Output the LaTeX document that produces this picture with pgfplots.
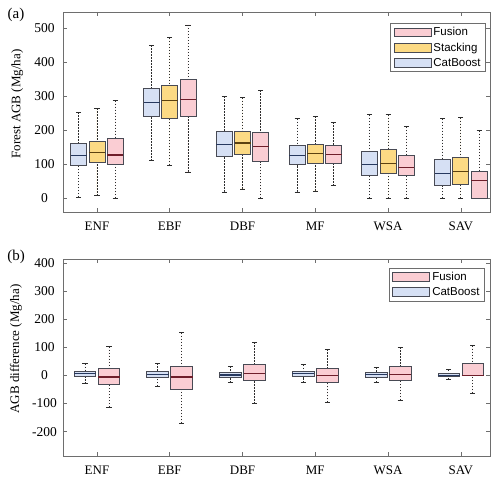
\documentclass[border=0pt]{standalone}
\usepackage{fontspec}
\setmainfont{Liberation Serif}
\newfontfamily\arialfont{Liberation Sans}
\usepackage{pgfplots}
\pgfplotsset{compat=1.18}
\usepgfplotslibrary{statistics}

\definecolor{framec}{RGB}{110,110,110}
\definecolor{edgec}{RGB}{72,74,84}
\definecolor{whiskc}{RGB}{45,45,45}
\definecolor{catfill}{RGB}{214,224,244}
\definecolor{stafill}{RGB}{252,218,132}
\definecolor{fusfill}{RGB}{250,205,211}
\definecolor{catmed}{RGB}{38,56,94}
\definecolor{stamed}{RGB}{92,66,16}
\definecolor{fusmed}{RGB}{110,30,42}

\pgfplotsset{
  panel/.style={
    scale only axis, width=427pt,
    xmin=0.533, xmax=6.4,
    xtick={1,2,3,4,5,6}, xticklabels={ENF,EBF,DBF,MF,WSA,SAV},
    axis line style={framec, line width=0.6pt},
    tick style={framec, line width=0.6pt},
    major tick length=4pt,
    xticklabel style={font=\fontsize{13}{14}\selectfont, text=black, anchor=center, yshift=-14pt},
    yticklabel style={font=\fontsize{13.5}{14}\selectfont, text=black, anchor=center, xshift=-18.5pt},
    label style={font=\fontsize{13}{14}\selectfont},
    /pgf/number format/assume math mode=true,
    legend image code/.code={\draw[##1] (0pt,-4.2pt) rectangle (37pt,4.2pt);},
    legend style={draw=framec, line width=0.6pt, fill=white,
      font=\arialfont\fontsize{11.5}{13}\selectfont,
      inner xsep=3pt, inner ysep=2pt, row sep=1.5pt,
      cells={anchor=west}},
    boxplot/draw direction=y,
    boxplot/whisker extend=0.07,
    boxplot/every box/.style={draw=edgec, line width=0.85pt},
    boxplot/every whisker/.style={draw=whiskc, line width=0.85pt, dash pattern=on 1.5pt off 1.5pt},
    boxplot/draw/lower whisker/.code={%
      \draw[/pgfplots/boxplot/every whisker/.try]
        (boxplot cs:\pgfplotsboxplotvalue{lower whisker}) --
        (boxplot cs:\pgfplotsboxplotvalue{lower quartile});
      \draw[draw=whiskc, line width=0.8pt, solid]
        (boxplot whisker cs:\pgfplotsboxplotvalue{lower whisker},0) --
        (boxplot whisker cs:\pgfplotsboxplotvalue{lower whisker},1);
    },
    boxplot/draw/upper whisker/.code={%
      \draw[/pgfplots/boxplot/every whisker/.try]
        (boxplot cs:\pgfplotsboxplotvalue{upper whisker}) --
        (boxplot cs:\pgfplotsboxplotvalue{upper quartile});
      \draw[draw=whiskc, line width=0.8pt, solid]
        (boxplot whisker cs:\pgfplotsboxplotvalue{upper whisker},0) --
        (boxplot whisker cs:\pgfplotsboxplotvalue{upper whisker},1);
    },
  },
  cat/.style={forget plot, fill=catfill, boxplot/every median/.style={draw=catmed, line width=1.3pt}},
  sta/.style={forget plot, fill=stafill, boxplot/every median/.style={draw=stamed, line width=1.3pt}},
  fus/.style={forget plot, fill=fusfill, boxplot/every median/.style={draw=fusmed, line width=1.3pt}},
}

% #1 style, #2 position, #3 lower whisker, #4 lower quartile, #5 median, #6 upper quartile, #7 upper whisker
\newcommand{\bp}[7]{\addplot[#1, boxplot prepared={draw position=#2, lower whisker=#3,
  lower quartile=#4, median=#5, upper quartile=#6, upper whisker=#7}] coordinates {};}

\begin{document}
\begin{tikzpicture}
\path[use as bounding box] (0pt,0pt) rectangle (500pt,477pt);

% ---------------- panel (a)
\begin{axis}[panel, at={(63pt,265pt)}, anchor=south west, height=200pt,
  ymin=-41, ymax=548, ytick={0,100,200,300,400,500},
  ylabel={Forest AGB (Mg/ha)},
  ylabel style={at={(axis description cs:-0.107,0.54)}, anchor=center},
  boxplot/box extend=0.22,
  legend style={at={(0.9906,0.9435)}, anchor=north east}]
\addlegendimage{draw=edgec, line width=0.8pt, fill=fusfill}
\addlegendentry{Fusion}
\addlegendimage{draw=edgec, line width=0.8pt, fill=stafill}
\addlegendentry{Stacking}
\addlegendimage{draw=edgec, line width=0.8pt, fill=catfill}
\addlegendentry{CatBoost}
% ENF
\bp{cat}{0.75}{3}{96}{126}{161}{253}
\bp{sta}{1.00}{7}{104}{134}{168}{264}
\bp{fus}{1.25}{0}{100}{127}{175}{287}
% EBF
\bp{cat}{1.75}{110}{239}{282}{323}{450}
\bp{sta}{2.00}{96}{236}{287}{331}{472}
\bp{fus}{2.25}{77}{240}{291}{348}{510}
% DBF
\bp{cat}{2.75}{18}{124}{158}{195}{300}
\bp{sta}{3.00}{27}{130}{162}{196}{296}
\bp{fus}{3.25}{0}{107}{151}{192}{318}
% MF
\bp{cat}{3.75}{18}{98}{125}{154}{234}
\bp{sta}{4.00}{21}{102}{131}{159}{241}
\bp{fus}{4.25}{36}{103}{129}{154}{223}
% WSA
\bp{cat}{4.75}{0}{67}{98}{138}{245}
\bp{sta}{5.00}{0}{73}{102}{142}{246}
\bp{fus}{5.25}{0}{67}{90}{125}{210}
% SAV
\bp{cat}{5.75}{0}{36}{73}{115}{234}
\bp{sta}{6.00}{0}{40}{79}{119}{237}
\bp{fus}{6.25}{0}{0}{52}{79}{198}
\end{axis}

% ---------------- panel (b)
\begin{axis}[panel, at={(63pt,21pt)}, anchor=south west, height=197pt,
  ymin=-287, ymax=415, ytick={-200,-100,0,100,200,300,400},
  ylabel={AGB difference (Mg/ha)},
  ylabel style={at={(axis description cs:-0.11,0.543)}, anchor=center},
  boxplot/box extend=0.30,
  legend style={at={(0.988,0.956)}, anchor=north east}]
\addlegendimage{draw=edgec, line width=0.8pt, fill=fusfill}
\addlegendentry{Fusion}
\addlegendimage{draw=edgec, line width=0.8pt, fill=catfill}
\addlegendentry{CatBoost}
% ENF
\bp{cat}{0.835}{-30}{-2}{7}{14}{42}
\bp{fus}{1.165}{-113}{-32}{-6}{24}{103}
% EBF
\bp{cat}{1.835}{-38}{-8}{4}{13}{44}
\bp{fus}{2.165}{-170}{-50}{-6}{31}{152}
% DBF
\bp{cat}{2.835}{-26}{-7}{2}{12}{32}
\bp{fus}{3.165}{-101}{-18}{8}{39}{119}
% MF
\bp{cat}{3.835}{-26}{-4}{6}{14}{38}
\bp{fus}{4.165}{-96}{-26}{0}{24}{94}
% WSA
\bp{cat}{4.835}{-25}{-6}{4}{10}{30}
\bp{fus}{5.165}{-88}{-19}{4}{31}{101}
% SAV
\bp{cat}{5.835}{-14}{-2}{1}{6}{20}
\bp{fus}{6.165}{-63}{0}{1}{43}{106}
\end{axis}

\node[font=\fontsize{15}{16}\selectfont] at (16pt,462pt) {(a)};
\node[font=\fontsize{15}{16}\selectfont] at (16pt,220pt) {(b)};
\end{tikzpicture}
\end{document}
